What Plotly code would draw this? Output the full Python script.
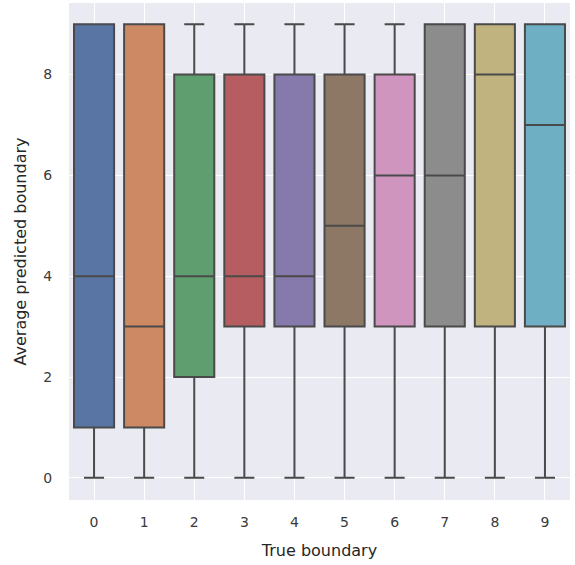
import plotly.graph_objects as go

categories = ["0", "1", "2", "3", "4", "5", "6", "7", "8", "9"]
lower = [0, 0, 0, 0, 0, 0, 0, 0, 0, 0]
q1 = [1, 1, 2, 3, 3, 3, 3, 3, 3, 3]
median = [4, 3, 4, 4, 4, 5, 6, 6, 8, 7]
q3 = [9, 9, 8, 8, 8, 8, 8, 9, 9, 9]
upper = [9, 9, 9, 9, 9, 9, 9, 9, 9, 9]
colors = ["#5975a4", "#cc8963", "#5f9e6e", "#b55d60", "#857aab",
          "#8d7866", "#d095bf", "#8c8c8c", "#c1b37f", "#6eafc3"]

fig = go.Figure()
for i, c in enumerate(categories):
    fig.add_trace(go.Box(
        x=[i], q1=[q1[i]], median=[median[i]], q3=[q3[i]],
        lowerfence=[lower[i]], upperfence=[upper[i]],
        fillcolor=colors[i], line=dict(color="#4a4a4a", width=2),
        width=0.8, whiskerwidth=0.5, boxpoints=False, showlegend=False,
        hoverinfo="skip",
    ))

font = "DejaVu Sans, sans-serif"
fig.update_layout(
    width=575, height=565,
    margin=dict(l=69, r=5, t=3, b=65),
    paper_bgcolor="white", plot_bgcolor="#EAEAF2",
    font=dict(family=font, size=13, color="#262626"),
    boxmode="overlay",
    xaxis=dict(
        range=[-0.5, 9.5], tickmode="array",
        tickvals=list(range(10)), ticktext=categories,
        showgrid=True, gridcolor="white", gridwidth=1,
        zeroline=False, showline=False, automargin=False,
        ticks="outside", ticklen=9, tickcolor="rgba(0,0,0,0)",
        tickfont=dict(size=14, color="#3a3a3a"),
        title=dict(text="True boundary", font=dict(size=16, color="#262626"), standoff=16),
    ),
    yaxis=dict(
        range=[-0.44, 9.42], tickvals=[0, 2, 4, 6, 8],
        showgrid=True, gridcolor="white", gridwidth=1.2,
        zeroline=False, showline=False, automargin=False,
        ticks="outside", ticklen=13, tickcolor="rgba(0,0,0,0)",
        tickfont=dict(size=14, color="#3a3a3a"),
        title=dict(text="Average predicted boundary", font=dict(size=16, color="#262626"), standoff=12),
    ),
)
fig.write_html("out.html", post_script="document.body.style.margin='0';",
               config={"displayModeBar": False})
